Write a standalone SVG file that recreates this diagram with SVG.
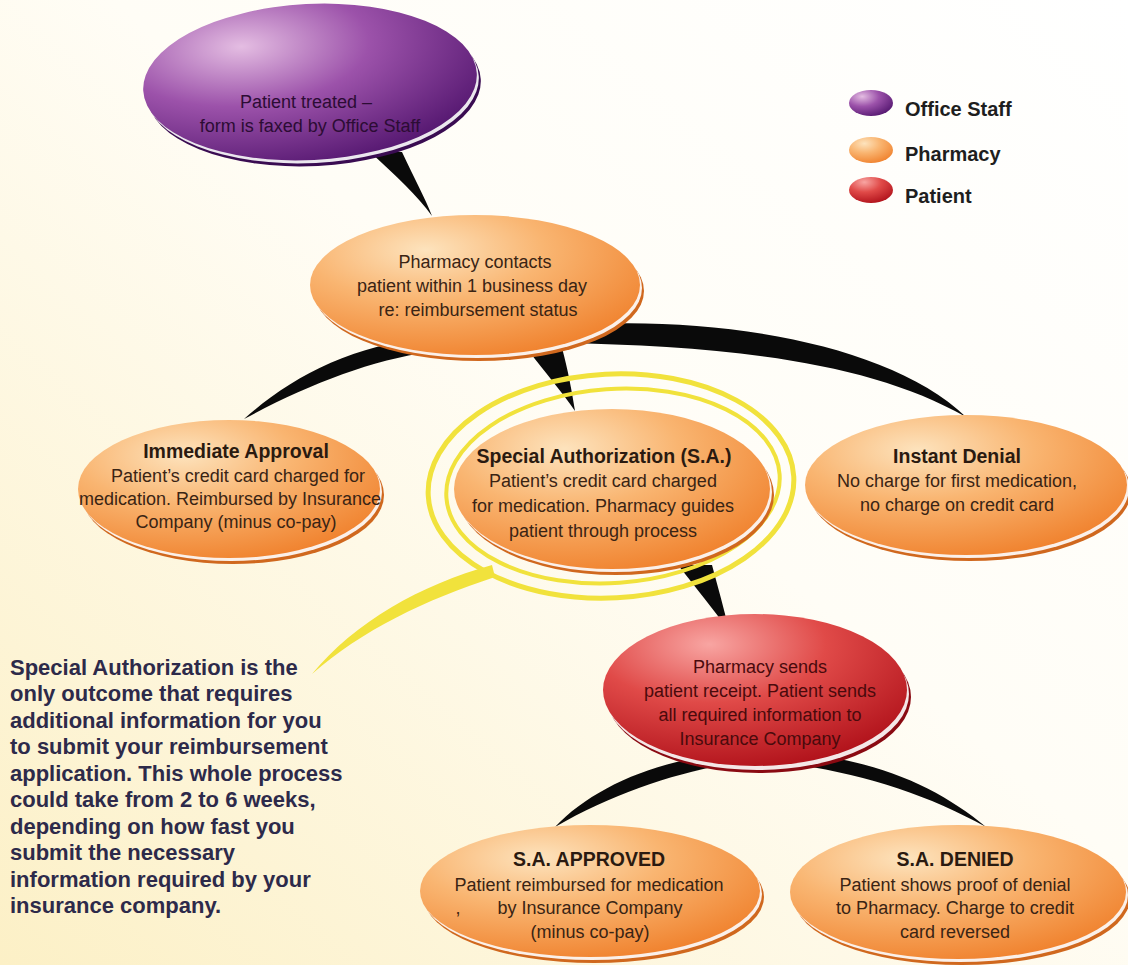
<svg xmlns="http://www.w3.org/2000/svg" width="1128" height="965" viewBox="0 0 1128 965">
<defs>
<linearGradient id="bg" x1="1" y1="0" x2="0" y2="1">
<stop offset="0" stop-color="#ffffff"/>
<stop offset="0.45" stop-color="#fffdf6"/>
<stop offset="1" stop-color="#fcf0c6"/>
</linearGradient>
<radialGradient id="gOr" cx="0.35" cy="0.25" r="0.8">
<stop offset="0" stop-color="#fde3bd"/>
<stop offset="0.45" stop-color="#f9b571"/>
<stop offset="1" stop-color="#f0822e"/>
</radialGradient>
<radialGradient id="gPu" cx="0.3" cy="0.25" r="0.85">
<stop offset="0" stop-color="#e4bde2"/>
<stop offset="0.45" stop-color="#9c52aa"/>
<stop offset="1" stop-color="#52156e"/>
</radialGradient>
<radialGradient id="gRe" cx="0.35" cy="0.2" r="0.85">
<stop offset="0" stop-color="#f8a5a2"/>
<stop offset="0.45" stop-color="#e04a48"/>
<stop offset="1" stop-color="#b0111a"/>
</radialGradient>
<style>
.or{fill:url(#gOr)}
.pu{fill:url(#gPu)}
.re{fill:url(#gRe)}
.rimOr{fill:#d0681e}
.rimPu{fill:#3a0c52}
.rimRe{fill:#8a0a12}
.wh{fill:#ffffff;opacity:0.9}
.t{font-family:"Liberation Sans",Arial,sans-serif;font-size:18px;text-anchor:middle;fill:#3a2414}
.tb{font-family:"Liberation Sans",Arial,sans-serif;font-size:19.5px;font-weight:bold;text-anchor:middle;fill:#2a1a10}
.tp{fill:#2c0c34}
.tr{fill:#4a0a0c}
.lg{font-family:"Liberation Sans",Arial,sans-serif;font-size:20px;font-weight:bold;fill:#1e1e1e}
.note{font-family:"Liberation Sans",Arial,sans-serif;font-size:22px;font-weight:bold;fill:#2d2a4a}
.con{fill:#0a0a0a}
.ring{fill:none;stroke:#f1e23c;stroke-linecap:round}
</style>
</defs>
<rect x="0" y="0" width="1128" height="965" fill="url(#bg)"/>

<g id="connectors">
<path class="con" d="M368,150 L402,152 C415,180 425,198 432,216 C418,196 396,176 368,150 Z"/>
<path class="con" d="M430,338 C350,345 290,378 244,419 C305,386 370,360 430,352 Z"/>
<path class="con" d="M528,350 L562,348 C568,370 572,392 575,411 C562,392 545,372 528,350 Z"/>
<path class="con" d="M560,326 C710,314 888,342 966,417 C870,362 730,346 560,343 Z"/>
<path class="con" d="M678,565 L712,565 C718,588 724,608 729,631 C714,610 696,588 678,565 Z"/>
<path class="con" d="M722,754 C650,762 590,790 555,827 C610,795 670,775 722,765 Z"/>
<path class="con" d="M800,754 C880,760 942,790 986,827 C930,796 870,776 800,765 Z"/>
</g>

<g id="highlight">
<ellipse class="ring" cx="611" cy="486" rx="183" ry="112" stroke-width="5" transform="rotate(-3 611 486)"/>
<ellipse class="ring" cx="613" cy="486" rx="167" ry="97" stroke-width="4" transform="rotate(-4 613 486)"/>
<path d="M492,565 C420,585 355,622 312,674 C362,630 425,600 495,577 Z" fill="#f1e23c"/>
</g>

<g id="node-office">
<ellipse class="rimPu" cx="314" cy="88" rx="167" ry="78" transform="rotate(-3 314 88)"/>
<ellipse class="wh" cx="312" cy="85" rx="167" ry="78" transform="rotate(-3 312 85)"/>
<ellipse class="pu" cx="310" cy="82" rx="167" ry="78" transform="rotate(-3 310 82)"/>
<text class="t tp" x="306" y="108">Patient treated –</text>
<text class="t tp" x="310" y="132">form is faxed by Office Staff</text>
</g>

<g id="node-pharmacy">
<ellipse class="rimOr" cx="479" cy="291" rx="165" ry="70"/>
<ellipse class="wh" cx="477" cy="288" rx="165" ry="70"/>
<ellipse class="or" cx="475" cy="285" rx="165" ry="70"/>
<text class="t" x="475" y="268">Pharmacy contacts</text>
<text class="t" x="472" y="292">patient within 1 business day</text>
<text class="t" x="478" y="316">re: reimbursement status</text>
</g>

<g id="node-immediate">
<ellipse class="rimOr" cx="233" cy="495" rx="151" ry="69"/>
<ellipse class="wh" cx="231" cy="492" rx="151" ry="69"/>
<ellipse class="or" cx="229" cy="489" rx="151" ry="69"/>
<text class="tb" x="236" y="458">Immediate Approval</text>
<text class="t" x="238" y="482">Patient’s credit card charged for</text>
<text class="t" x="230" y="505">medication. Reimbursed by Insurance</text>
<text class="t" x="236" y="528">Company (minus co-pay)</text>
</g>

<g id="node-special">
<ellipse class="rimOr" cx="616" cy="495" rx="158" ry="80"/>
<ellipse class="wh" cx="614" cy="492" rx="158" ry="80"/>
<ellipse class="or" cx="612" cy="489" rx="158" ry="80"/>
<text class="tb" x="604" y="463">Special Authorization (S.A.)</text>
<text class="t" x="603" y="487">Patient’s credit card charged</text>
<text class="t" x="603" y="512">for medication. Pharmacy guides</text>
<text class="t" x="603" y="537">patient through process</text>
</g>

<g id="node-denial">
<ellipse class="rimOr" cx="970" cy="491" rx="161" ry="70"/>
<ellipse class="wh" cx="968" cy="488" rx="161" ry="70"/>
<ellipse class="or" cx="966" cy="485" rx="161" ry="70"/>
<text class="tb" x="957" y="463">Instant Denial</text>
<text class="t" x="957" y="487">No charge for first medication,</text>
<text class="t" x="957" y="511">no charge on credit card</text>
</g>

<g id="node-patient">
<ellipse class="rimRe" cx="759" cy="697" rx="152" ry="76"/>
<ellipse class="wh" cx="757" cy="694" rx="152" ry="76"/>
<ellipse class="re" cx="755" cy="690" rx="152" ry="76"/>
<text class="t tr" x="760" y="673">Pharmacy sends</text>
<text class="t tr" x="760" y="697">patient receipt. Patient sends</text>
<text class="t tr" x="760" y="721">all required information to</text>
<text class="t tr" x="760" y="745">Insurance Company</text>
</g>

<g id="node-approved">
<ellipse class="rimOr" cx="594" cy="897" rx="170" ry="66"/>
<ellipse class="wh" cx="592" cy="894" rx="170" ry="66"/>
<ellipse class="or" cx="590" cy="891" rx="170" ry="66"/>
<text class="tb" x="589" y="866">S.A. APPROVED</text>
<text class="t" x="589" y="891">Patient reimbursed for medication</text>
<text class="t" x="458" y="914">,</text>
<text class="t" x="590" y="914">by Insurance Company</text>
<text class="t" x="590" y="938">(minus co-pay)</text>
</g>

<g id="node-sadenied">
<ellipse class="rimOr" cx="962" cy="898" rx="168" ry="67"/>
<ellipse class="wh" cx="960" cy="895" rx="168" ry="67"/>
<ellipse class="or" cx="958" cy="892" rx="168" ry="67"/>
<text class="tb" x="955" y="866">S.A. DENIED</text>
<text class="t" x="955" y="891">Patient shows proof of denial</text>
<text class="t" x="955" y="914">to Pharmacy. Charge to credit</text>
<text class="t" x="955" y="938">card reversed</text>
</g>

<g id="legend">
<ellipse class="pu" cx="871" cy="103" rx="22" ry="13"/>
<ellipse class="or" cx="871" cy="150" rx="22" ry="13"/>
<ellipse class="re" cx="871" cy="190" rx="22" ry="13"/>
<text class="lg" x="905" y="116">Office Staff</text>
<text class="lg" x="905" y="161">Pharmacy</text>
<text class="lg" x="905" y="203">Patient</text>
</g>

<g id="note">
<text class="note" x="10" y="675">Special Authorization is the</text>
<text class="note" x="10" y="701">only outcome that requires</text>
<text class="note" x="10" y="728">additional information for you</text>
<text class="note" x="10" y="754">to submit your reimbursement</text>
<text class="note" x="10" y="781">application. This whole process</text>
<text class="note" x="10" y="807">could take from 2 to 6 weeks,</text>
<text class="note" x="10" y="834">depending on how fast you</text>
<text class="note" x="10" y="860">submit the necessary</text>
<text class="note" x="10" y="887">information required by your</text>
<text class="note" x="10" y="913">insurance company.</text>
</g>
</svg>
